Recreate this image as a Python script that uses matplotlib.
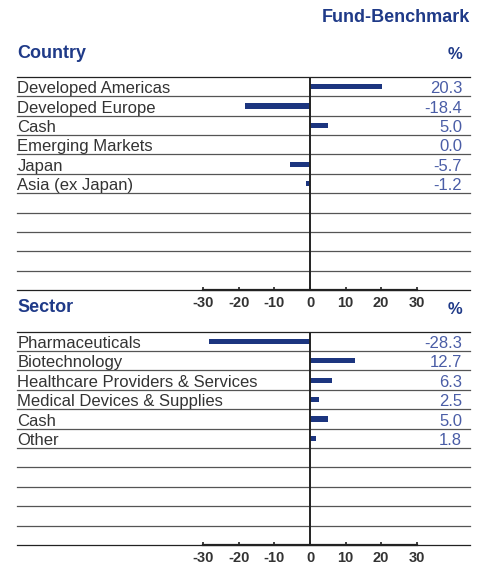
import matplotlib
matplotlib.use("Agg")
import matplotlib.pyplot as plt

country_labels = ["Developed Americas", "Developed Europe", "Cash",
                  "Emerging Markets", "Japan", "Asia (ex Japan)"]
country_values = [20.3, -18.4, 5.0, 0.0, -5.7, -1.2]

sector_labels = ["Pharmaceuticals", "Biotechnology",
                 "Healthcare Providers & Services",
                 "Medical Devices & Supplies", "Cash", "Other"]
sector_values = [-28.3, 12.7, 6.3, 2.5, 5.0, 1.8]

ticks = [-30, -20, -10, 0, 10, 20, 30]
n_rows = 11

NAVY = "#1f3a88"
BAR = "#1c357f"
VAL = "#4a5da6"
TXT = "#333333"
FONT = ["Liberation Sans", "DejaVu Sans"]
plt.rcParams["font.family"] = FONT

W, H = 486, 564
fig = plt.figure(figsize=(W / 100, H / 100), dpi=100)

# x mapping: left edge 17px, right edge 470px, zero at 310px, 1 unit = 3.555px
px_per = 3.555
xmin = (17 - 310) / px_per
xmax = (470 - 310) / px_per
xval = (462 - 310) / px_per


def panel(top, bottom, labels, values):
    ax = fig.add_axes([17 / W, (H - bottom) / H, (470 - 17) / W, (bottom - top) / H])
    ax.set_ylim(n_rows, 0)
    for i in range(n_rows + 1):
        c = "#222222" if i in (0, n_rows) else "#555555"
        ax.axhline(i, color=c, lw=0.9, zorder=1, clip_on=False)
    ax.axvline(0, color="#222222", lw=1.4, zorder=3)
    ys = [i + 0.5 for i in range(len(values))]
    ax.barh(ys, values, height=0.27, color=BAR, zorder=2)
    for y, lab, v in zip(ys, labels, values):
        ax.text(xmin + 0.1, y + 0.34, lab, ha="left", va="baseline",
                fontsize=12, color=TXT)
        ax.text(xval, y + 0.34, f"{v:.1f}", ha="right", va="baseline",
                fontsize=12, color=VAL)
    for s in ["top", "left", "right"]:
        ax.spines[s].set_visible(False)
    ax.spines["bottom"].set_bounds(-30, 30)
    ax.spines["bottom"].set_linewidth(1.6)
    ax.spines["bottom"].set_color("#222222")
    ax.set_yticks([])
    ax.set_xticks(ticks)
    ax.set_xticklabels([str(t) for t in ticks])
    ax.set_xlim(xmin, xmax)
    ax.tick_params(axis="x", direction="in", length=2.5, width=1.2,
                   color="#222222", pad=4, labelsize=10.5, labelcolor=TXT)
    for t in ax.get_xticklabels():
        t.set_fontweight("bold")
    return ax


panel(77, 290, country_labels, country_values)
panel(331.7, 545, sector_labels, sector_values)

fig.text(470 / W, 1 - 17 / H, "Fund-Benchmark", ha="right", va="center",
         fontsize=13, fontweight="bold", color=NAVY)
fig.text(17 / W, 1 - 54 / H, "Country", ha="left", va="center",
         fontsize=13, fontweight="bold", color=NAVY)
fig.text(462 / W, 1 - 55 / H, "%", ha="right", va="center",
         fontsize=12, fontweight="bold", color=NAVY)
fig.text(17 / W, 1 - 308 / H, "Sector", ha="left", va="center",
         fontsize=13, fontweight="bold", color=NAVY)
fig.text(462 / W, 1 - 310 / H, "%", ha="right", va="center",
         fontsize=12, fontweight="bold", color=NAVY)

fig.savefig("out.png", dpi=100)
